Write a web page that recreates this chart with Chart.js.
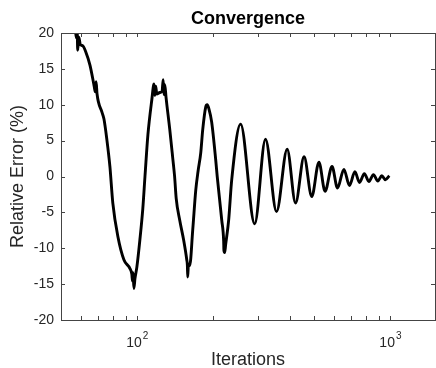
<!DOCTYPE html>
<html>
<head>
<meta charset="utf-8">
<script src="https://cdn.jsdelivr.net/npm/chart.js@4/dist/chart.umd.min.js"></script>
<style>
  html, body { margin: 0; padding: 0; background: #fff; }
  canvas { display: block; }
</style>
</head>
<body>
<canvas id="chart" width="436" height="368"></canvas>
<script>
// --- data ---
const iterations = [
  56.8, 57.5, 57.9, 58.2, 58.8, 59.6, 61.0, 62.6, 65.1, 67.6, 68.3, 68.8, 69.4,
  72.5, 73.9, 75.9, 78.0, 80.1, 83.9, 88.6, 93.5, 95.2, 95.8, 96.3, 97.0, 98.0,
  99.7, 102.4, 105.2, 107.3, 110.2, 114.2, 116.5, 117.4, 118.3, 119.5, 122.8,
  125.4, 126.6, 127.6, 128.5, 130.0, 134.5, 138.2, 140.5, 142.5, 147.2, 152.6,
  156.9, 157.8, 158.3, 159.3, 161.2, 165.7, 170.3, 174.0, 178.2, 181.4, 186.5,
  189.0, 192.0, 196.8, 204.2, 207.0, 215.7, 219.5, 220.0, 221.5, 223.5, 229.8,
  236.1, 256, 291, 321, 355, 391, 422, 456, 489, 522, 552, 588, 618, 655, 689,
  724, 755, 789, 822, 857, 892, 925, 955, 990
];
const relError = [
  21.0, 19.3, 20.5, 17.6, 19.4, 18.4, 18.2, 17.4, 15.5, 12.6, 11.8, 13.2, 11.5,
  9.0, 8.0, 5.1, 1.4, -3.7, -8.4, -11.6, -12.8, -13.6, -14.6, -13.4, -15.6, -14.2,
  -12.6, -8.9, -4.5, 0, 5.8, 10.7, 12.9, 11.3, 12.6, 11.5, 11.7,
  11.9, 13.5, 11.4, 12.8, 11.0, 6.5, 2.5, 0, -3.0, -6.1, -8.9,
  -11.6, -12.4, -14.0, -12.2, -12.4, -7.4, -1.9, 0.8, 3.3, 6.5, 9.7,
  10.0, 9.4, 7.6, 2.3, 0, -6.1, -9.0, -10.3, -10.6, -9.5, -6.0,
  -0.5, 7.3, -6.6, 5.2, -4.9, 3.8, -3.7, 2.76, -2.8, 2.0, -2.05, 1.4, -1.6, 1.0, -1.25,
  0.67, -0.83, 0.4, -0.7, 0.25, -0.62, 0.1, -0.45, 0.1
];

const xMajorTicks = [100, 1000];
const xTickBase = ['10', '10'];
const xTickExponent = ['2', '3'];
const xMinorTicks = [60, 70, 80, 90, 200, 300, 400, 500, 600, 700, 800, 900];
const yTicks = [-20, -15, -10, -5, 0, 5, 10, 15, 20];

const FONT = "'Liberation Sans', Arial, Helvetica, sans-serif";
const AXIS_COLOR = '#262626';

// MATLAB-style frame: box, inward ticks, title over the axes, 10^n labels
const boxPlugin = {
  id: 'matlabBox',
  afterDatasetsDraw(chart) {
    const { ctx, chartArea: a, scales: { x, y } } = chart;
    const tick = 4;
    ctx.save();
    ctx.strokeStyle = '#444';
    ctx.lineWidth = 1;
    ctx.strokeRect(a.left + 0.5, a.top + 0.5, a.right - a.left, a.bottom - a.top);
    ctx.beginPath();
    yTicks.forEach(v => {
      const py = Math.round(y.getPixelForValue(v)) + 0.5;
      ctx.moveTo(a.left, py); ctx.lineTo(a.left + tick, py);
      ctx.moveTo(a.right, py); ctx.lineTo(a.right - tick, py);
    });
    xMajorTicks.concat(xMinorTicks).forEach(v => {
      const px = Math.round(x.getPixelForValue(v)) + 0.5;
      ctx.moveTo(px, a.bottom); ctx.lineTo(px, a.bottom - tick);
      ctx.moveTo(px, a.top); ctx.lineTo(px, a.top + tick);
    });
    ctx.stroke();

    // title centred over the axes
    ctx.fillStyle = '#000';
    ctx.font = `bold 18px ${FONT}`;
    ctx.textAlign = 'center';
    ctx.textBaseline = 'alphabetic';
    ctx.fillText('Convergence', (a.left + a.right) / 2, 24);

    // x tick labels as 10 with a raised exponent
    ctx.fillStyle = AXIS_COLOR;
    ctx.textAlign = 'left';
    xMajorTicks.forEach((v, i) => {
      const px = x.getPixelForValue(v);
      ctx.font = `14px ${FONT}`;
      const wBase = ctx.measureText(xTickBase[i]).width;
      ctx.font = `10px ${FONT}`;
      const wExp = ctx.measureText(xTickExponent[i]).width;
      const start = px - (wBase + wExp + 1) / 2;
      ctx.font = `14px ${FONT}`;
      ctx.fillText(xTickBase[i], start, a.bottom + 27);
      ctx.font = `10px ${FONT}`;
      ctx.fillText(xTickExponent[i], start + wBase + 1, a.bottom + 19);
    });
    ctx.restore();
  }
};

new Chart(document.getElementById('chart'), {
  type: 'line',
  data: {
    datasets: [{
      data: iterations.map((it, i) => ({ x: it, y: relError[i] })),
      borderColor: '#000',
      borderWidth: 2.9,
      pointRadius: 0,
      fill: false,
      cubicInterpolationMode: 'monotone',
      borderJoinStyle: 'round'
    }]
  },
  options: {
    responsive: false,
    animation: false,
    layout: { padding: { left: 0, right: 1, top: 33, bottom: 0 } },
    plugins: {
      legend: { display: false },
      tooltip: { enabled: false },
      title: { display: false }
    },
    scales: {
      x: {
        type: 'logarithmic',
        min: 50,
        max: 1500,
        grid: { display: false, drawTicks: false },
        border: { display: false },
        afterBuildTicks: scale => { scale.ticks = xMajorTicks.map(v => ({ value: v })); },
        afterFit: scale => { scale.height = 48; },
        ticks: { display: false },
        title: {
          display: true,
          text: 'Iterations',
          color: AXIS_COLOR,
          font: { family: FONT, size: 18, lineHeight: 0.85 },
          padding: 0
        }
      },
      y: {
        type: 'linear',
        min: -20,
        max: 20,
        grid: { display: false, drawTicks: false },
        border: { display: false },
        afterFit: scale => { scale.width = 61; },
        ticks: {
          stepSize: 5,
          padding: 7,
          color: AXIS_COLOR,
          font: { family: FONT, size: 14 }
        },
        title: {
          display: true,
          text: 'Relative Error (%)',
          color: AXIS_COLOR,
          font: { family: FONT, size: 18, lineHeight: 1 },
          padding: { top: 9, bottom: 0 }
        }
      }
    }
  },
  plugins: [boxPlugin]
});
</script>
</body>
</html>
